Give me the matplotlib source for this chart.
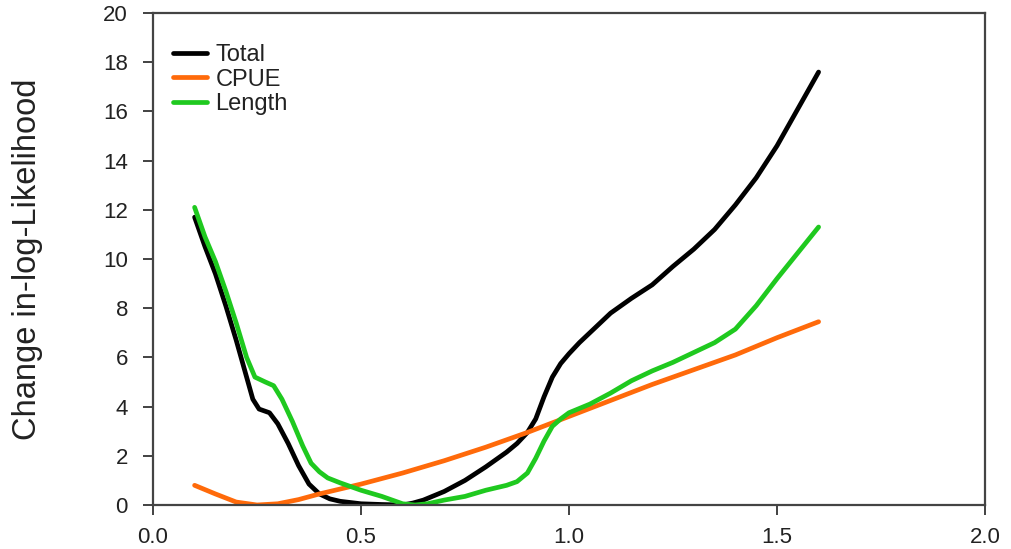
import matplotlib
matplotlib.use("Agg")
import matplotlib.pyplot as plt

plt.rcParams['font.family'] = ['Liberation Sans', 'DejaVu Sans']

total_x = [0.10, 0.125, 0.15, 0.175, 0.20, 0.225, 0.24, 0.255, 0.28, 0.30, 0.325, 0.35, 0.375,
           0.40, 0.425, 0.45, 0.50, 0.55, 0.60, 0.625, 0.65, 0.70, 0.75, 0.80, 0.85, 0.875,
           0.90, 0.92, 0.94, 0.96, 0.98, 1.00, 1.025, 1.05, 1.10, 1.15, 1.20, 1.25, 1.30, 1.35,
           1.40, 1.45, 1.50, 1.55, 1.60]
total_y = [11.7, 10.5, 9.4, 8.1, 6.7, 5.2, 4.3, 3.9, 3.75, 3.3, 2.5, 1.6, 0.85,
           0.45, 0.25, 0.15, 0.05, 0.02, 0.0, 0.08, 0.2, 0.55, 1.0, 1.55, 2.15, 2.5,
           2.95, 3.5, 4.4, 5.2, 5.75, 6.15, 6.6, 7.0, 7.8, 8.4, 8.95, 9.7, 10.4, 11.2,
           12.2, 13.3, 14.6, 16.1, 17.6]

cpue_x = [0.10, 0.15, 0.20, 0.25, 0.30, 0.35, 0.40, 0.50, 0.60, 0.70, 0.80, 0.90,
          1.00, 1.10, 1.20, 1.30, 1.40, 1.50, 1.60]
cpue_y = [0.8, 0.45, 0.12, 0.0, 0.05, 0.22, 0.45, 0.85, 1.3, 1.8, 2.35, 2.95,
          3.6, 4.25, 4.9, 5.5, 6.1, 6.8, 7.45]

length_x = [0.10, 0.125, 0.15, 0.175, 0.20, 0.225, 0.245, 0.27, 0.29, 0.31, 0.335, 0.36,
            0.38, 0.40, 0.42, 0.45, 0.50, 0.55, 0.60, 0.63, 0.66, 0.70, 0.75, 0.80,
            0.85, 0.875, 0.90, 0.92, 0.94, 0.96, 0.98, 1.00, 1.05, 1.10, 1.15, 1.20,
            1.25, 1.30, 1.35, 1.40, 1.45, 1.50, 1.55, 1.60]
length_y = [12.1, 10.9, 9.9, 8.7, 7.4, 6.0, 5.2, 5.0, 4.85, 4.3, 3.4, 2.4,
            1.7, 1.35, 1.1, 0.9, 0.6, 0.35, 0.05, 0.0, 0.05, 0.2, 0.35, 0.6,
            0.8, 0.95, 1.3, 1.9, 2.6, 3.2, 3.5, 3.75, 4.1, 4.55, 5.05, 5.45,
            5.8, 6.2, 6.6, 7.15, 8.1, 9.2, 10.25, 11.3]

x_ticks = [0.0, 0.5, 1.0, 1.5, 2.0]
x_tick_labels = ["0.0", "0.5", "1.0", "1.5", "2.0"]
y_ticks = list(range(0, 21, 2))

fig = plt.figure(figsize=(10.12, 5.49), dpi=100)
ax = fig.add_axes([153/1012, 44/549, 832/1012, 492/549])

lw = 3.4
ax.plot(total_x, total_y, color='black', lw=lw, label='Total',
        solid_capstyle='round', solid_joinstyle='round')
ax.plot(cpue_x, cpue_y, color='#FF6A0A', lw=lw, label='CPUE',
        solid_capstyle='round', solid_joinstyle='round')
ax.plot(length_x, length_y, color='#1FC91F', lw=lw, label='Length',
        solid_capstyle='round', solid_joinstyle='round')

ax.set_xlim(0, 2.0)
ax.set_ylim(0, 20)
ax.set_xticks(x_ticks)
ax.set_xticklabels(x_tick_labels)
ax.set_yticks(y_ticks)
ax.tick_params(axis='both', direction='out', length=7, width=1.3, color='#333333',
               labelsize=16, labelcolor='#222222')
ax.tick_params(axis='x', pad=9)
ax.tick_params(axis='y', pad=11)
for s in ax.spines.values():
    s.set_color('#444444')
    s.set_linewidth(1.6)

ax.set_ylabel('Change in-log-Likelihood', fontsize=23.5, color='#222222')
ax.yaxis.label.set_va('center')
ax.yaxis.set_label_coords(-0.151, 0.5)

leg = ax.legend(loc='upper left', bbox_to_anchor=(0.007, 0.965), frameon=False, fontsize=17,
                handlelength=1.45, handletextpad=0.35, labelspacing=0.1, borderaxespad=0.2)
for t in leg.get_texts():
    t.set_color('#222222')

fig.savefig('out.png', dpi=100)
